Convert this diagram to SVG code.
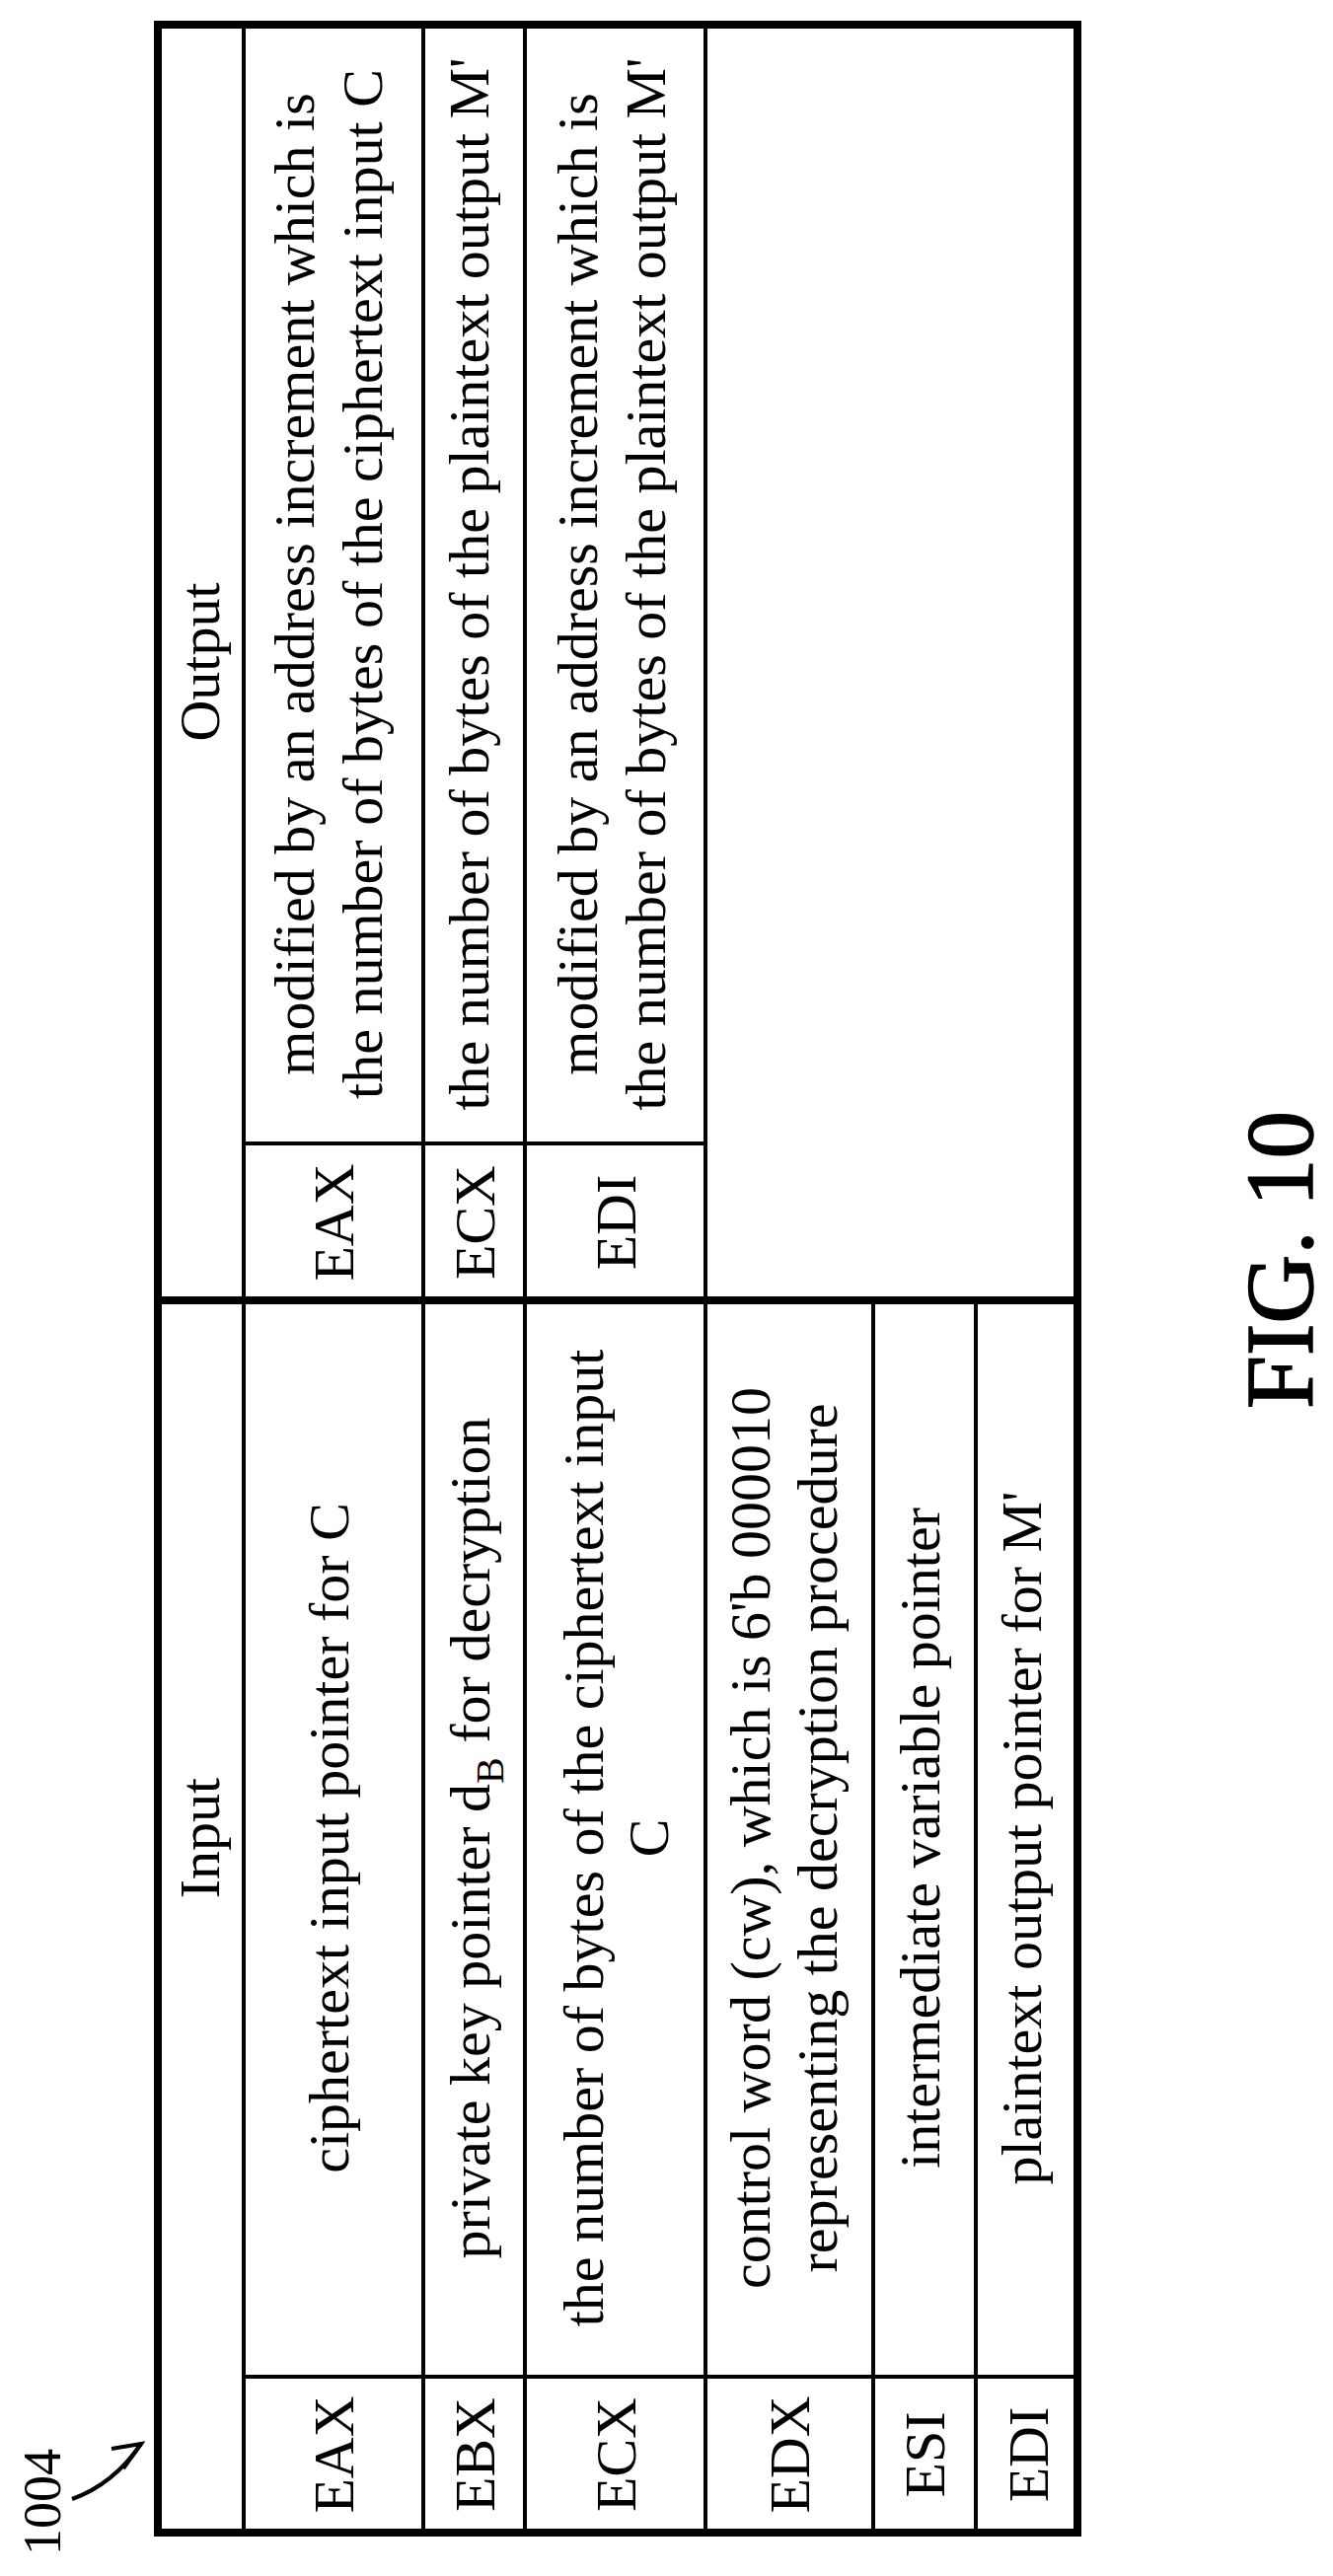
<svg xmlns="http://www.w3.org/2000/svg" width="1351" height="2611" viewBox="0 0 1351 2611">
<style>
text{font-family:"Liberation Serif","Times New Roman",serif;font-size:58px;fill:#000;text-anchor:middle}
.ln{stroke:#000;stroke-width:4;fill:none}
.thick{stroke:#000;stroke-width:8;fill:none}
.fig{font-size:97px;stroke:#000;stroke-width:1.5}
</style>
<rect width="1351" height="2611" fill="#fff"/>
<g id="table-lines">
<rect class="thick" x="160" y="25" width="932" height="2542"/>
<line class="thick" x1="160" y1="1318" x2="1092" y2="1318"/>
<line class="ln" x1="247" y1="25" x2="247" y2="2567"/>
<line class="ln" x1="429" y1="25" x2="429" y2="2567"/>
<line class="ln" x1="532" y1="25" x2="532" y2="2567"/>
<line class="ln" x1="715" y1="25" x2="715" y2="2567"/>
<line class="ln" x1="885" y1="1318" x2="885" y2="2567"/>
<line class="ln" x1="989" y1="1318" x2="989" y2="2567"/>
<line class="ln" x1="247" y1="1159" x2="715" y2="1159"/>
<line class="ln" x1="247" y1="2409" x2="1092" y2="2409"/>
</g>
<g id="header-output"><text transform="translate(222,671) rotate(-90)">Output</text></g>
<g id="header-input"><text transform="translate(222,1863) rotate(-90)">Input</text></g>
<g id="out-eax">
<text transform="translate(358,1239) rotate(-90)">EAX</text>
<text transform="translate(318,592) rotate(-90)">modified by an address increment which is</text>
<text transform="translate(387,592) rotate(-90)">the number of bytes of the ciphertext input C</text>
</g>
<g id="out-ecx">
<text transform="translate(501,1239) rotate(-90)">ECX</text>
<text transform="translate(495,592) rotate(-90)">the number of bytes of the plaintext output M'</text>
</g>
<g id="out-edi">
<text transform="translate(644,1239) rotate(-90)">EDI</text>
<text transform="translate(605,592) rotate(-90)">modified by an address increment which is</text>
<text transform="translate(674,592) rotate(-90)">the number of bytes of the plaintext output M'</text>
</g>
<g id="in-eax">
<text transform="translate(358,2488) rotate(-90)">EAX</text>
<text transform="translate(353,1863) rotate(-90)">ciphertext input pointer for C</text>
</g>
<g id="in-ebx">
<text transform="translate(501,2488) rotate(-90)">EBX</text>
<text transform="translate(496,1863) rotate(-90)">private key pointer d<tspan font-size="40" dy="14">B</tspan><tspan dy="-14"> for decryption</tspan></text>
</g>
<g id="in-ecx">
<text transform="translate(644,2488) rotate(-90)">ECX</text>
<text transform="translate(611,1863) rotate(-90)">the number of bytes of the ciphertext input</text>
<text transform="translate(677,1863) rotate(-90)">C</text>
</g>
<g id="in-edx">
<text transform="translate(820,2488) rotate(-90)">EDX</text>
<text transform="translate(780,1863) rotate(-90)">control word (cw), which is 6'b 000010</text>
<text transform="translate(848,1863) rotate(-90)">representing the decryption procedure</text>
</g>
<g id="in-esi">
<text transform="translate(957,2488) rotate(-90)">ESI</text>
<text transform="translate(952,1863) rotate(-90)">intermediate variable pointer</text>
</g>
<g id="in-edi">
<text transform="translate(1062,2488) rotate(-90)">EDI</text>
<text transform="translate(1055,1863) rotate(-90)">plaintext output pointer for M'</text>
</g>
<g id="label-1004">
<text transform="translate(61,2536) rotate(-90)" style="font-size:54px">1004</text>
</g>
<g id="connectors">
<path class="ln" stroke-width="3" d="M73,2533 Q115,2518 143,2477"/>
<path class="ln" stroke-width="3" d="M113,2482 L143,2477 L125,2502"/>
</g>
<g id="fig-label"><text class="fig" transform="translate(1330,1277) rotate(-90)">FIG. 10</text></g>
</svg>
